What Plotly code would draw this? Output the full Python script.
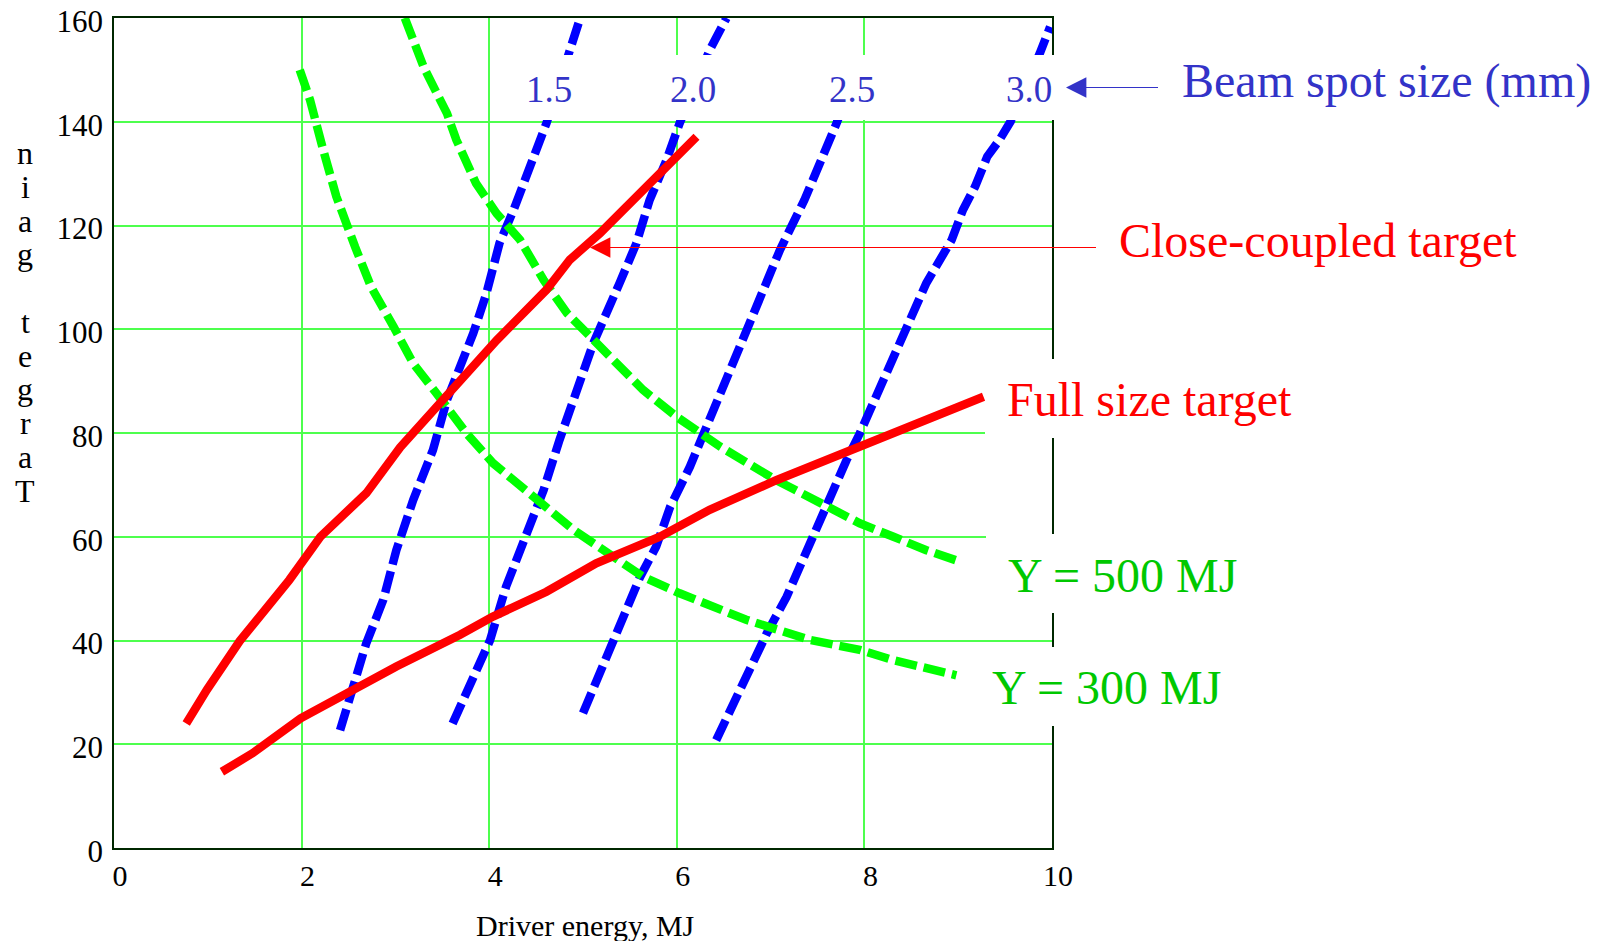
import plotly.graph_objects as go

# ---- data -------------------------------------------------------------
close_x = [0.77, 0.99, 1.34, 1.87, 2.20, 2.69, 3.05, 3.62, 4.08, 4.61, 4.86, 5.18, 5.68, 6.21]
close_y = [24.0, 30.5, 39.9, 51.7, 60.0, 68.4, 77.2, 88.6, 97.9, 107.6, 113.4, 118.5, 127.5, 137.1]

full_x = [1.15, 1.48, 1.99, 2.37, 3.01, 3.69, 4.04, 4.61, 5.14, 5.82, 6.35, 7.06, 7.60, 8.66, 9.27]
full_y = [14.7, 18.3, 25.0, 28.9, 35.0, 41.1, 44.6, 49.4, 54.9, 60.0, 65.2, 70.9, 74.8, 82.5, 87.0]

y300_x = [1.98, 2.09, 2.23, 2.37, 2.57, 2.74, 2.98, 3.19, 3.44, 3.76, 4.04, 4.47, 4.90, 5.32,
          5.64, 6.03, 6.39, 6.74, 7.42, 7.95, 8.31, 8.98]
y300_y = [150.0, 144.2, 134.6, 125.6, 115.9, 108.2, 100.5, 93.4, 87.6, 79.9, 74.2, 67.7, 61.3, 56.2,
          52.3, 49.1, 46.5, 44.0, 40.1, 38.2, 36.2, 33.3]

y500_x = [3.10, 3.30, 3.55, 3.65, 3.86, 4.08, 4.33, 4.58, 4.83, 5.18, 5.64, 6.00, 6.46, 7.06,
          7.60, 7.95, 8.31, 8.66, 9.02]
y500_y = [160.0, 150.6, 141.6, 136.5, 128.1, 122.3, 117.2, 109.5, 103.1, 96.6, 88.3, 83.1, 77.4, 70.9,
          65.8, 62.6, 60.0, 57.4, 55.2]

spot15_x = [2.41, 2.51, 2.69, 2.87, 3.01, 3.19, 3.40, 3.55, 3.83, 3.97, 4.11, 4.26, 4.43, 4.61, 4.86, 4.97]
spot15_y = [22.7, 29.2, 39.5, 47.8, 57.4, 67.1, 76.7, 86.4, 99.2, 106.9, 116.6, 123.0, 131.3, 139.7, 153.8, 160.0]

spot20_x = [3.61, 3.76, 4.01, 4.18, 4.36, 4.58, 4.75, 4.93, 5.11, 5.39, 5.57, 5.71, 5.89, 6.03, 6.35, 6.53]
spot20_y = [24.0, 29.8, 40.1, 50.4, 58.7, 69.0, 78.7, 87.6, 97.3, 108.9, 116.6, 124.9, 132.6, 139.7, 153.8, 160.0]

spot25_x = [5.00, 5.18, 5.39, 5.61, 5.78, 5.93, 6.14, 6.32, 6.60, 6.89, 7.10, 7.36, 7.54, 7.71, 7.85]
spot25_y = [26.0, 33.7, 42.7, 52.3, 58.1, 65.8, 73.5, 81.2, 94.1, 105.6, 115.3, 124.9, 132.6, 140.0, 147.0]

spot30_x = [6.42, 6.74, 6.96, 7.17, 7.38, 7.60, 7.81, 7.95, 8.17, 8.41, 8.66, 8.93, 9.05, 9.18, 9.31,
            9.44, 9.56, 9.87, 9.98]
spot30_y = [20.8, 33.0, 41.4, 48.4, 57.4, 65.8, 74.8, 79.9, 88.9, 97.9, 108.9, 117.2, 123.0, 127.5, 133.3,
            136.5, 140.1, 153.2, 158.3]

x_ticks = [0, 2, 4, 6, 8, 10]
y_ticks = [0, 20, 40, 60, 80, 100, 120, 140, 160]
spot_labels = ["1.5", "2.0", "2.5", "3.0"]
y_title = "Target gain"
x_title = "Driver energy, MJ"

# ---- styling ----------------------------------------------------------
FONT = "Liberation Serif"
RED = "#FF0000"
GREEN_LINE = "#00FF00"
GREEN_TEXT = "#00C800"
BLUE_LINE = "#0000FF"
BLUE_TEXT = "#3333C8"
GRID = "#4DFF4D"
AXIS = "#002800"
DASH = "22px,7px"

W, H = 1602, 941
L, R, T, B = 114, 1052, 18, 848   # plot area in page pixels


def px(x):
    return (x - L) / (R - L)


def py(y):
    return (B - y) / (B - T)


fig = go.Figure()

for xs, ys in [(spot15_x, spot15_y), (spot20_x, spot20_y), (spot25_x, spot25_y), (spot30_x, spot30_y)]:
    fig.add_trace(go.Scatter(x=xs, y=ys, mode="lines",
                             line=dict(color=BLUE_LINE, width=8.5, dash=DASH)))

for xs, ys in [(y300_x, y300_y), (y500_x, y500_y)]:
    fig.add_trace(go.Scatter(x=xs, y=ys, mode="lines",
                             line=dict(color=GREEN_LINE, width=8.5, dash=DASH)))

for xs, ys in [(close_x, close_y), (full_x, full_y)]:
    fig.add_trace(go.Scatter(x=xs, y=ys, mode="lines",
                             line=dict(color=RED, width=8.5)))

# white backgrounds of the in-plot labels (they hide grid, curves and frame)
masks = [(510, 55, 1058, 120), (985, 359, 1058, 438), (986, 534, 1058, 613), (958, 647, 1058, 726)]
shapes = []
for x0, y0, x1, y1 in masks:
    shapes.append(dict(type="rect", xref="paper", yref="paper", layer="above",
                       x0=px(x0), x1=px(x1), y0=py(y1), y1=py(y0),
                       fillcolor="white", line=dict(width=0)))

ann = []
# beam spot size labels
for lab, cx in zip(spot_labels, [549, 693, 852, 1029]):
    ann.append(dict(text=lab, x=px(cx), y=py(89.5), xref="paper", yref="paper",
                    xanchor="center", yanchor="middle", showarrow=False,
                    font=dict(family=FONT, size=37, color=BLUE_TEXT)))


def label(text, x_left, y_mid, color, size=48):
    ann.append(dict(text=text, x=px(x_left), y=py(y_mid), xref="paper", yref="paper",
                    xanchor="left", yanchor="middle", showarrow=False,
                    font=dict(family=FONT, size=size, color=color)))


def arrow(x_tip, x_tail, y, color):
    ann.append(dict(x=px(x_tip), y=py(y), xref="paper", yref="paper",
                    ax=x_tail - x_tip, ay=0, showarrow=True, arrowhead=2,
                    arrowsize=3.4, arrowwidth=1.2, arrowcolor=color, standoff=0,
                    font=dict(size=2)))


label("Beam spot size (mm)", 1180, 80.5, BLUE_TEXT)
arrow(1066, 1160, 87.5, BLUE_TEXT)
label("Close-coupled target", 1117, 240.5, RED)
arrow(590, 1098, 247.5, RED)
label("Full size target", 1005, 399.5, RED)
label("Y = 500 MJ", 1006, 575.5, GREEN_TEXT)
label("Y = 300 MJ", 990, 687, GREEN_TEXT)

# axis titles
ann.append(dict(text=x_title, x=px(585.5), y=py(925), xref="paper", yref="paper",
                xanchor="center", yanchor="middle", showarrow=False,
                font=dict(family=FONT, size=30, color="black")))
for i, ch in enumerate(y_title[::-1]):
    if ch == " ":
        continue
    ann.append(dict(text=ch, x=px(25), y=py(164 + i * 33.75 - 10.8), xref="paper", yref="paper",
                    xanchor="center", yanchor="middle", showarrow=False,
                    font=dict(family=FONT, size=32, color="black")))

fig.update_layout(
    width=W, height=H, autosize=False,
    margin=dict(l=L, r=W - R, t=T, b=H - B, pad=0, autoexpand=False),
    paper_bgcolor="white", plot_bgcolor="white",
    showlegend=False,
    shapes=shapes, annotations=ann,
    xaxis=dict(range=[0, 10], tickvals=x_ticks, ticktext=[str(v) for v in x_ticks],
               showgrid=True, gridcolor=GRID, gridwidth=1.5, zeroline=False,
               showline=True, linecolor=AXIS, linewidth=1.5, mirror=True, automargin=False,
               ticks="", ticklabelstandoff=0, ticklabelshift=6, ticklabeloverflow="allow",
               tickfont=dict(family=FONT, size=30, color="black")),
    yaxis=dict(range=[0, 160], tickvals=y_ticks, ticktext=[str(v) for v in y_ticks],
               showgrid=True, gridcolor=GRID, gridwidth=1.5, zeroline=False,
               showline=True, linecolor=AXIS, linewidth=1.5, mirror=True, automargin=False,
               ticks="", ticklabelstandoff=3, ticklabelshift=3, ticklabeloverflow="allow",
               tickfont=dict(family=FONT, size=31, color="black")),
)

fig.write_html("out.html")
